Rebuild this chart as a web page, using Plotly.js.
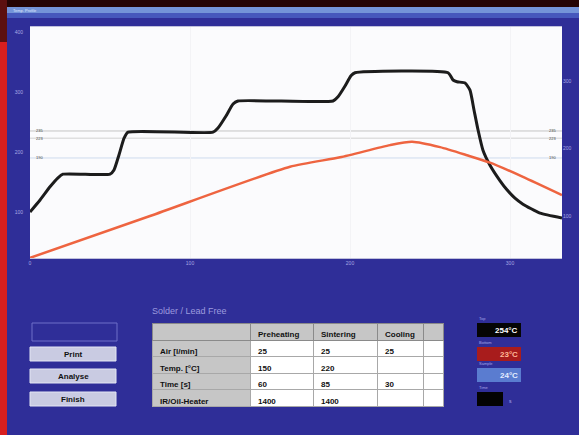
<!DOCTYPE html>
<html><head><meta charset="utf-8">
<script src="https://cdn.plot.ly/plotly-3.0.1.min.js"></script>
<style>html,body{margin:0;padding:0;background:#2f2e98;}#chart{width:579px;height:435px;}</style>
</head><body><div id="chart"></div>
<script>
// ---- data ----
const timeTemp = [0,6.3,12.5,17.5,20.6,50,52.5,55.6,58.8,61.3,114.4,117.5,122.5,126.9,130,189.4,192.5,196.9,200.6,203.1,261.3,264.4,266.9,271.9,275,277.5,280,283.1,287.5,293.8,298.1,303.1,308.1,318.8,332.5];
const tempProfile = [100,120,142,157,163,163,170,195,223,233,233,240,260,280,285,285,292,310,327,332,332,320,317,315,303,270,237,203,178,152,137,123,113,98,90];
const timeSample = [0,75,162.5,193.8,225,238.8,256.3,273.1,287.5,308.1,332.5];
const sampleTemp = [38,100,173,187,205,210,202,190,179,158,131];
const refLevels = [235,223,190];
const refLabels = ['235','223','190'];
const yTicks = [100,200,300,400];
const y2Ticks = [100,200,300];
const xTicks = [0,100,200,300];

const tableTitle = 'Solder / Lead Free';
const phaseHeaders = ['', 'Preheating', 'Sintering', 'Cooling', ''];
const rowLabels = ['Air [l/min]', 'Temp. [°C]', 'Time [s]', 'IR/Oil-Heater'];
const preheating = ['25', '150', '60', '1400'];
const sintering = ['25', '220', '85', '1400'];
const cooling = ['25', '', '30', ''];
const buttons = ['Print', 'Analyse', 'Finish'];
const indicatorLabels = ['Top', 'Bottom', 'Sample', 'Time'];
const indicatorValues = ['254°C', '23°C', '24°C', ''];

// ---- helpers for layout positions (pixels -> paper) ----
const W = 579, H = 435;
const X = p => p / W, Y = p => 1 - p / H;
const FONT = 'Liberation Sans, Arial, sans-serif';

const shapes = [];
const annotations = [];
function rect(x0, y0, x1, y1, fill, line, lw) {
  shapes.push({type:'rect', xref:'paper', yref:'paper', x0:X(x0), x1:X(x1), y0:Y(y1), y1:Y(y0),
    fillcolor:fill || 'rgba(0,0,0,0)', line:{color:line || 'rgba(0,0,0,0)', width:lw || 0}, layer:'below'});
}
function label(text, x, y, size, color, anchor, bold) {
  annotations.push({xref:'paper', yref:'paper', x:X(x), y:Y(y), text:text, showarrow:false,
    xanchor:anchor || 'left', yanchor:'middle', font:{family:FONT, size:size, color:color, weight: bold ? 'bold' : 'normal'}});
}

// background frame
rect(0, 0, 579, 7, '#240404');
rect(0, 7, 7, 435, '#d81f1f');
rect(0, 0, 7, 42, '#5c1010');
rect(7, 7, 579, 13, '#7494d8');
rect(7, 13, 579, 18, '#4658bc');
label('Temp. Profile', 11, 10.5, 4, '#dfe6ff');

// buttons
rect(32, 323, 117, 341, null, '#6e6ec8', 1);
const btnY = [347, 369, 392];
buttons.forEach((b, i) => {
  rect(30, btnY[i], 116, btnY[i] + 14, '#c9cbe2', '#e4e6f4', 1);
  label(b, 73, btnY[i] + 7, 8, '#111', 'center', true);
});

// table title
label(tableTitle, 150, 311, 9, '#9c9ade');

// indicators
const indY = [323, 347, 368, 392];
const indFill = ['#050505', '#a81c1c', '#5a7cd0', '#030303'];
const indText = ['#ffffff', '#ffb898', '#e4ecff', '#ffffff'];
indicatorLabels.forEach((t, i) => {
  label(t, 477, indY[i] - 5, 4, '#a4a4e6');
  const w = i === 3 ? 26 : 44;
  rect(477, indY[i], 477 + w, indY[i] + 14, indFill[i]);
  if (indicatorValues[i]) label(indicatorValues[i], 520, indY[i] + 7, 8, indText[i], 'right', true);
});
label('s', 507, 401, 5, '#b0b0ee');

// reference lines + labels
const refColors = ['#c4c4c4', '#d2d2d2', '#cfdcee'];
refLevels.forEach((v, i) => {
  shapes.push({type:'line', xref:'paper', yref:'y', x0:X(30), x1:X(562), y0:v, y1:v,
    line:{color:refColors[i], width:1}, layer:'below'});
  annotations.push({xref:'paper', yref:'y', x:X(34), y:v, text:refLabels[i], showarrow:false,
    xanchor:'left', yanchor:'middle', font:{family:FONT, size:4, color:'#444'}});
  annotations.push({xref:'paper', yref:'y', x:X(558), y:v, text:refLabels[i], showarrow:false,
    xanchor:'right', yanchor:'middle', font:{family:FONT, size:4, color:'#444'}});
});

const traces = [
  {type:'scatter', mode:'lines', x:timeSample, y:sampleTemp, yaxis:'y2',
   line:{color:'#ee6440', width:2.5, shape:'spline', smoothing:0.6}, hoverinfo:'skip'},
  {type:'scatter', mode:'lines', x:timeTemp, y:tempProfile,
   line:{color:'#1c1c1c', width:3, shape:'spline', smoothing:0.5}, hoverinfo:'skip'},
  {type:'table',
   domain:{x:[X(152), X(443)], y:[Y(412), Y(323)]},
   columnwidth:[98, 63, 64, 46, 20],
   header:{values:phaseHeaders, height:17, align:'left',
     fill:{color:'#c6c6c6'}, line:{color:'#8a8a8a', width:1},
     font:{family:FONT, size:8, color:'#111', weight:'bold'}},
   cells:{values:[rowLabels, preheating, sintering, cooling, ['', '', '', '']], height:16.5, align:'left',
     fill:{color:['#c6c6c6', '#ffffff', '#ffffff', '#ffffff', '#ffffff']},
     line:{color:'#a8a8a8', width:1},
     font:{family:FONT, size:8, color:'#111', weight:'bold'}}}
];

const tickFont = {family:FONT, size:5, color:'#a8a8e2'};
const layout = {
  width:W, height:H, margin:{l:0, r:0, t:0, b:0},
  paper_bgcolor:'#2f2e98', plot_bgcolor:'#fbfbfd', showlegend:false,
  xaxis:{domain:[X(30), X(562)], range:[0, 332.5], tickvals:xTicks, tickfont:tickFont,
    showgrid:true, gridcolor:'#f3f3f6', dtick:20, tick0:0, zeroline:false, ticks:'',
    showline:true, linecolor:'#c0c0dc', linewidth:1, mirror:true, fixedrange:true},
  yaxis:{domain:[Y(258), Y(27)], range:[23.3, 408.3], tickvals:yTicks, tickfont:tickFont,
    showgrid:false, zeroline:false, ticks:'', ticklabelstandoff:6, fixedrange:true},
  yaxis2:{overlaying:'y', side:'right', range:[37.8, 380], tickvals:y2Ticks, tickfont:tickFont,
    showgrid:false, zeroline:false, ticks:'', fixedrange:true},
  shapes:shapes, annotations:annotations
};
Plotly.newPlot('chart', traces, layout, {displayModeBar:false, staticPlot:true});
</script>
</body></html>
